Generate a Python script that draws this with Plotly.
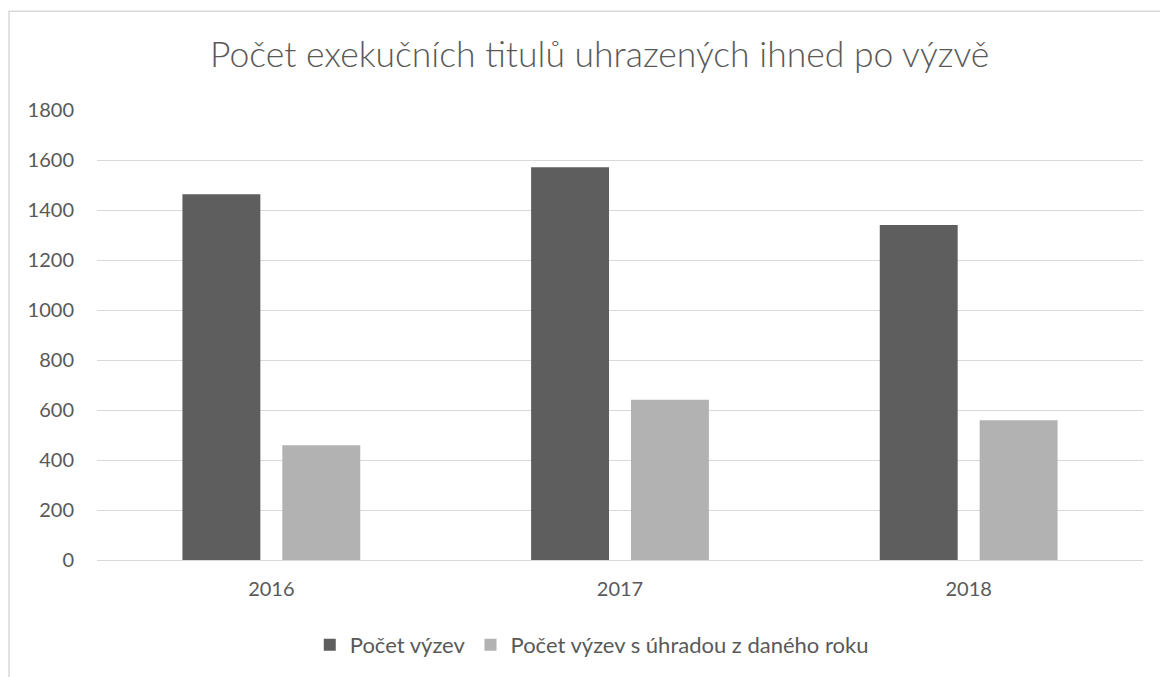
import plotly.graph_objects as go

years = ["2016", "2017", "2018"]
series_names = ["Počet výzev", "Počet výzev s úhradou z daného roku"]
pocet_vyzev = [1463, 1571, 1340]
pocet_s_uhradou = [459, 641, 559]
y_ticks = [0, 200, 400, 600, 800, 1000, 1200, 1400, 1600, 1800]
title_text = "Počet exekučních titulů uhrazených ihned po výzvě"

FONT = "Lato"
TXT = "#595959"

fig = go.Figure()
fig.add_trace(go.Bar(x=years, y=pocet_vyzev, name=series_names[0],
                     marker=dict(color="#5e5e5e", line=dict(width=0))))
fig.add_trace(go.Bar(x=years, y=pocet_s_uhradou, name=series_names[1],
                     marker=dict(color="#b2b2b2", line=dict(width=0))))

fig.update_layout(
    width=1160, height=677,
    margin=dict(l=97, r=17, t=110, b=116),
    paper_bgcolor="white", plot_bgcolor="white",
    barmode="group", bargap=0.427, bargroupgap=0.22,
    font=dict(family=FONT, color=TXT, size=20),
    title=dict(text=title_text, x=0.517, xanchor="center", y=0.92, yanchor="middle",
               font=dict(family=FONT, size=35.5, color=TXT, weight=300)),
    showlegend=True,
    legend=dict(orientation="h", x=0.473, xanchor="center", y=-0.186, yanchor="middle",
                font=dict(family=FONT, size=22, color=TXT), itemwidth=30,
                traceorder="normal"),
    xaxis=dict(showgrid=False, showline=True, linecolor="#d9d9d9", linewidth=1,
               ticks="", tickfont=dict(size=20, color=TXT), ticklabelstandoff=11),
    yaxis=dict(range=[0, 1800], tickvals=y_ticks, showgrid=True, gridcolor="#d9d9d9",
               gridwidth=1, zeroline=False, showline=False, ticks="",
               tickfont=dict(size=20, color=TXT), ticklabelstandoff=22),
)

fig.add_shape(type="rect", xref="paper", yref="paper",
              x0=-0.0841, y0=-0.4, x1=1.2, y1=1.2195,
              line=dict(color="#d9d9d9", width=1.5), fillcolor="rgba(0,0,0,0)", layer="below")

fig.write_html("out.html")
